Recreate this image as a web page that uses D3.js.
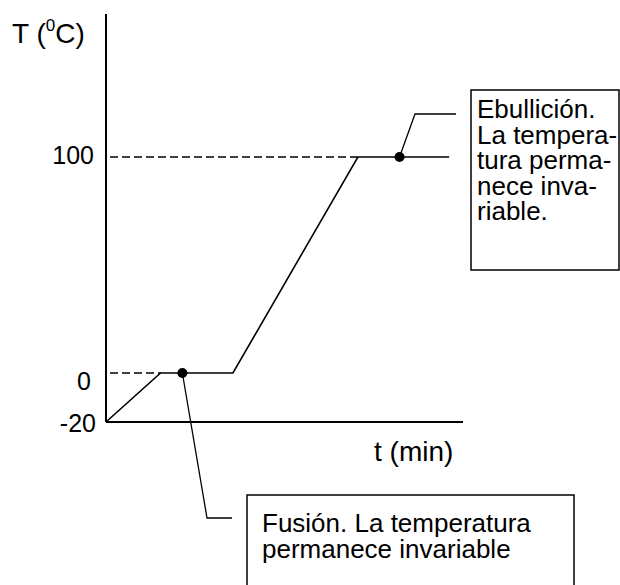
<!DOCTYPE html>
<html><head><meta charset="utf-8">
<script src="https://cdn.jsdelivr.net/npm/d3@7"></script>
<style>
html,body{margin:0;padding:0;background:#fff;}
svg text{font-family:"Liberation Sans",Arial,sans-serif;fill:#000;}
</style></head>
<body>
<svg id="chart" width="620" height="585"></svg>
<script>
// Data (schematic heating curve of water)
const times = [0, 5.5, 12.8, 25.4, 34.6];      // t (min), schematic
const temps = [-20, 0, 0, 100, 100];           // T (°C)
const tickValues = [-20, 0, 100];
const tickLabels = ["-20", "0", "100"];
const plateauTemps = [0, 100];
const markerTimes = [7.7, 29.6];
const markerTemps = [0, 100];
const noteFusion = ["Fusión. La temperatura", "permanece invariable"];
const noteBoil = ["Ebullición.", "La tempera-", "tura perma-", "nece inva-", "riable."];
const yTitle = "T (";
const xTitle = "t (min)";

const svg = d3.select("#chart");
const x = d3.scaleLinear().domain([0, 36]).range([106, 463]);
const y = d3.scaleLinear().domain([-20, 0, 100, 166]).range([422, 373, 157, 14]);

// dashed guides
plateauTemps.forEach((v, i) => {
  const xEnd = x(times[i === 0 ? 1 : 3]);
  svg.append("line").attr("x1", 110).attr("x2", xEnd)
    .attr("y1", y(v)).attr("y2", y(v))
    .attr("stroke", "#000").attr("stroke-width", 1.4).attr("stroke-dasharray", "8,4");
});

// axes lines
svg.append("line").attr("x1", x(0)).attr("x2", x(0)).attr("y1", y(166)).attr("y2", y(-20))
  .attr("stroke", "#000").attr("stroke-width", 2);
svg.append("line").attr("x1", x(0)).attr("x2", x(36)).attr("y1", y(-20)).attr("y2", y(-20))
  .attr("stroke", "#000").attr("stroke-width", 2);

// y tick labels via axis
const labelEnd = {"-20": -10, "0": -15, "100": -12};
const labelDy = {"-20": 0, "0": 7, "100": -3};
const yAxis = d3.axisLeft(y).tickValues(tickValues)
  .tickFormat((d, i) => tickLabels[i]).tickSizeInner(0).tickSizeOuter(0).tickPadding(10);
const gy = svg.append("g").attr("transform", `translate(${x(0)},0)`).call(yAxis);
gy.select(".domain").remove();
gy.selectAll("text").attr("font-size", 25).attr("font-family", "Liberation Sans, Arial, sans-serif")
  .attr("fill", "#000").attr("dy", "0.36em")
  .attr("x", (d, i) => labelEnd[tickLabels[i]])
  .attr("y", (d, i) => labelDy[tickLabels[i]]);

// curve
const line = d3.line().x((d, i) => x(times[i])).y(d => y(d));
svg.append("path").datum(temps).attr("d", line)
  .attr("fill", "none").attr("stroke", "#000").attr("stroke-width", 1.6);

// markers
markerTimes.forEach((t, i) => {
  svg.append("circle").attr("cx", x(t)).attr("cy", y(markerTemps[i])).attr("r", 5).attr("fill", "#000");
});

// leader lines
svg.append("path").attr("d", d3.line()([[x(markerTimes[0]), y(0)], [207, 518], [232, 518]]))
  .attr("fill", "none").attr("stroke", "#000").attr("stroke-width", 1.3);
svg.append("path").attr("d", d3.line()([[x(markerTimes[1]), y(100)], [415, 114], [456, 114]]))
  .attr("fill", "none").attr("stroke", "#000").attr("stroke-width", 1.3);

// boxes
svg.append("rect").attr("x", 471).attr("y", 90).attr("width", 148).attr("height", 180)
  .attr("fill", "none").attr("stroke", "#000").attr("stroke-width", 1.5);
svg.append("rect").attr("x", 247).attr("y", 495).attr("width", 327).attr("height", 120)
  .attr("fill", "none").attr("stroke", "#000").attr("stroke-width", 1.5);

// notes
noteBoil.forEach((s, i) => {
  svg.append("text").attr("x", 477).attr("y", 118 + i * 25.5).attr("font-size", 26).text(s);
});
noteFusion.forEach((s, i) => {
  svg.append("text").attr("x", 262).attr("y", 531.5 + i * 26.5).attr("font-size", 26).text(s);
});

// axis titles
const yt = svg.append("text").attr("x", 12).attr("y", 43).attr("font-size", 28);
yt.append("tspan").text(yTitle);
yt.append("tspan").attr("font-size", 17).attr("dy", -12).text("0");
yt.append("tspan").attr("dy", 12).text("C)");
svg.append("text").attr("x", 374).attr("y", 461).attr("font-size", 28).text(xTitle);
</script>
</body></html>
